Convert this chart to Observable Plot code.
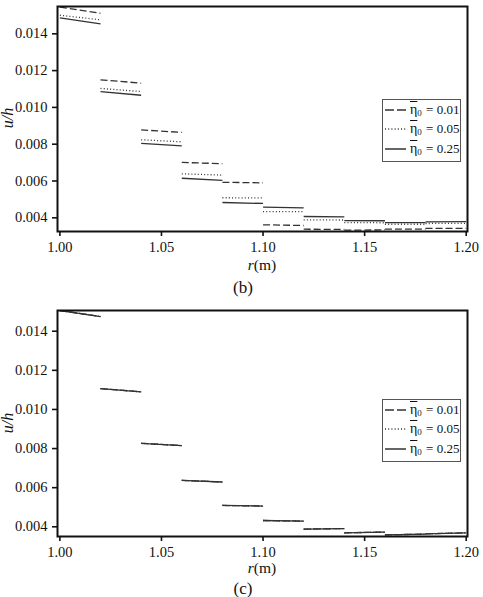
<!DOCTYPE html>
<html><head><meta charset="utf-8">
<script src="https://cdn.jsdelivr.net/npm/d3@7"></script>
<script src="https://cdn.jsdelivr.net/npm/@observablehq/plot@0.6"></script>
<style>
body{margin:0;background:#fff;font-family:"Liberation Serif","Times New Roman",serif;color:#111;}
#root{position:relative;width:483px;height:597px;overflow:hidden;background:#fff;}
.panel{position:absolute;left:0;}
.abs{position:absolute;white-space:nowrap;}
.cap{font-size:17px;line-height:15px;transform:translateX(-50%);}
.xl{font-size:15.5px;line-height:13px;transform:translateX(-50%);}
.yl{font-size:16px;font-style:italic;transform:translate(-50%,-50%) rotate(-90deg);}
.legend{border:1px solid #555;background:#fff;width:76px;height:61px;padding:0 0 0 1px;box-sizing:content-box;}
.row{display:flex;align-items:center;height:19.5px;font-size:13px;}
.row svg{margin-right:3px;}
.eta{text-decoration:overline;font-size:14px;}
.row sub{font-size:9px;position:relative;top:3px;vertical-align:baseline;margin-right:1px;}
</style></head><body><div id="root"></div>
<script>
// interval edges (r in m)
const rEdges = [1.00,1.02,1.04,1.06,1.08,1.10,1.12,1.14,1.16,1.18,1.20];
const xTicks = [1.00,1.05,1.10,1.15,1.20];
const yTicks = [0.004,0.006,0.008,0.010,0.012,0.014];
const seriesLabels = ["0.01","0.05","0.25"];

// panel (b): value at start / end of each interval
const b001Start = [0.01545,0.01150,0.00878,0.00701,0.00593,0.00362,0.00338,0.00333,0.00338,0.00343];
const b001End   = [0.01512,0.01132,0.00864,0.00694,0.00590,0.00358,0.00337,0.00334,0.00338,0.00343];
const b005Start = [0.01501,0.01103,0.00824,0.00639,0.00509,0.00434,0.00389,0.00374,0.00365,0.00369];
const b005End   = [0.01476,0.01086,0.00813,0.00632,0.00508,0.00433,0.00388,0.00373,0.00365,0.00370];
const b025Start = [0.01487,0.01086,0.00805,0.00615,0.00483,0.00458,0.00407,0.00385,0.00374,0.00378];
const b025End   = [0.01454,0.01066,0.00791,0.00603,0.00478,0.00454,0.00405,0.00384,0.00374,0.00379];

// panel (c): the three series coincide
const c001Start = [0.01506,0.01107,0.00827,0.00637,0.00509,0.00432,0.00388,0.00369,0.00359,0.00364];
const c001End   = [0.01475,0.01090,0.00815,0.00629,0.00506,0.00429,0.00391,0.00373,0.00362,0.00369];
const c005Start = [0.01506,0.01107,0.00827,0.00637,0.00509,0.00432,0.00388,0.00369,0.00359,0.00364];
const c005End   = [0.01475,0.01090,0.00815,0.00629,0.00506,0.00429,0.00391,0.00373,0.00362,0.00369];
const c025Start = [0.01506,0.01107,0.00827,0.00637,0.00509,0.00432,0.00388,0.00369,0.00359,0.00364];
const c025End   = [0.01475,0.01090,0.00815,0.00629,0.00506,0.00429,0.00391,0.00373,0.00362,0.00369];

const dashes = ["7,3","1,2.2",null];
const legendDashes = ["9,3","1,2.2",null];
const LINE = "#333";

function segs(st, en){
  return st.map((v,i)=>({x1:rEdges[i], x2:rEdges[i+1], y1:v, y2:en[i]}));
}

function panel(series, yDomain, height, mt, mb){
  const marks = series.map((s,i)=>Plot.link(s,{x1:"x1",y1:"y1",x2:"x2",y2:"y2",
    stroke:LINE, strokeWidth:1.3, strokeDasharray: dashes[i] ?? undefined, clip:true}));
  return Plot.plot({
    width:483, height, marginLeft:57, marginRight:16, marginTop:mt, marginBottom:mb,
    style:{fontFamily:"'Liberation Serif','Times New Roman',serif", fontSize:"14.5px", color:"#111", background:"transparent", overflow:"visible"},
    x:{domain:[0.99882,1.20064]},
    y:{domain:yDomain},
    marks:[
      ...marks,
      Plot.frame({stroke:"#111", strokeWidth:2}),
      Plot.axisX({ticks:xTicks, tickFormat:".2f", tickSize:5, tickPadding:5, strokeWidth:1.6, label:null}),
      Plot.axisY({ticks:yTicks, tickFormat:".3f", tickSize:5, tickPadding:5, strokeWidth:1.6, label:null})
    ]
  });
}

const root = document.getElementById("root");

function place(el, top){ el.classList.add("panel"); el.style.top = top+"px"; root.appendChild(el); }
function addDiv(cls, html, left, top){
  const d = document.createElement("div"); d.className = "abs "+cls; d.innerHTML = html;
  d.style.left = left+"px"; d.style.top = top+"px"; root.appendChild(d); return d;
}
function legend(left, top){
  const box = document.createElement("div"); box.className = "abs legend";
  box.style.left = left+"px"; box.style.top = top+"px";
  seriesLabels.forEach((lab,i)=>{
    const row = document.createElement("div"); row.className = "row";
    row.innerHTML = `<svg width="23" height="10"><line x1="1" y1="5" x2="22" y2="5" stroke="${LINE}" stroke-width="1.5" ${legendDashes[i]?`stroke-dasharray="${legendDashes[i]}"`:""}/></svg><span class="eta">η</span><sub>0</sub>&nbsp;= ${lab}`;
    box.appendChild(row);
  });
  root.appendChild(box);
}

const pb = panel([segs(b001Start,b001End), segs(b005Start,b005End), segs(b025Start,b025End)],
  [0.003255,0.015484], 270, 6, 39);
place(pb, 0);
const pc = panel([segs(c001Start,c001End), segs(c005Start,c005End), segs(c025Start,c025End)],
  [0.003503,0.01506], 270, 10, 34);
place(pc, 300);

addDiv("yl", "u/h", 8, 118);
addDiv("yl", "u/h", 8, 423);
addDiv("xl", "<i>r</i>(m)", 262, 258);
addDiv("xl", "<i>r</i>(m)", 262, 561);
addDiv("cap", "(b)", 243, 280);
addDiv("cap", "(c)", 243, 581);
legend(382, 99);
legend(382, 399);
</script>
</body></html>
